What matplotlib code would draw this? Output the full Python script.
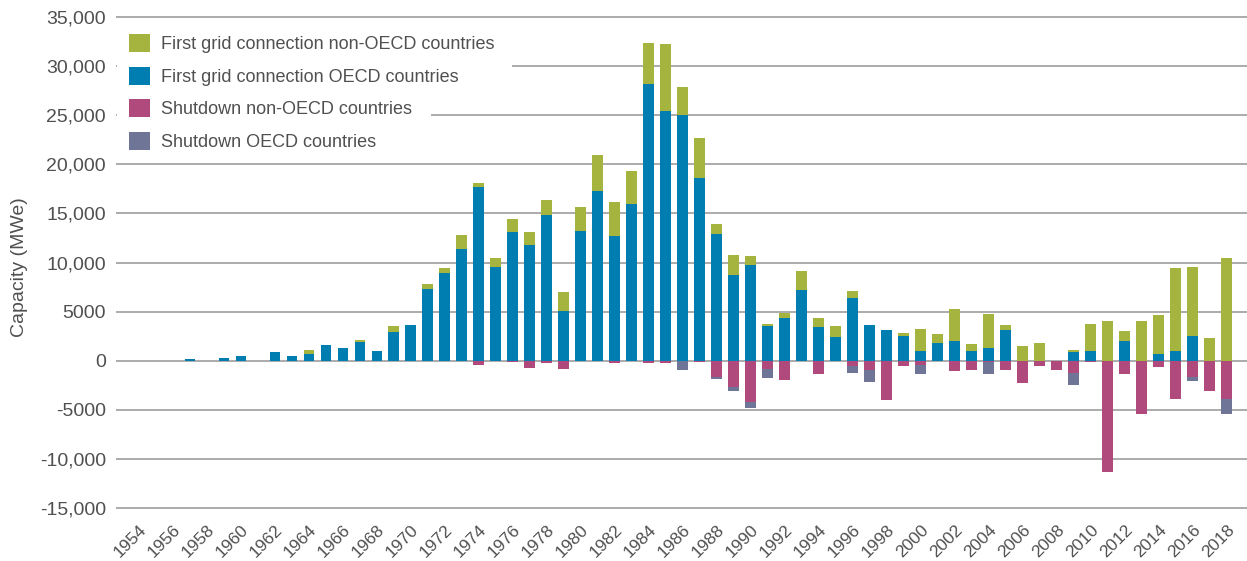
import matplotlib
matplotlib.use("Agg")
import matplotlib.pyplot as plt
from matplotlib.patches import Rectangle
from matplotlib.ticker import FuncFormatter, FixedLocator
from matplotlib.transforms import blended_transform_factory, ScaledTranslation
import numpy as np

years = list(range(1954, 2019))

oecd_connect = [0, 0, 0, 150, 0, 240, 440, 0, 850, 440,
                680, 1600, 1260, 1900, 990, 2920, 3640, 7340, 8930, 11380,
                17690, 9540, 13110, 11780, 14840, 5090, 13210, 17290, 12700, 15960,
                28170, 25430, 24980, 18610, 12920, 8680, 9760, 3490, 4370, 7190,
                3390, 2440, 6410, 3590, 3090, 2540, 1020, 1800, 2000, 1020,
                1320, 3150, 0, 0, 0, 850, 1020, 0, 1970, 0,
                680, 980, 2540, 0, 0]

nonoecd_connect = [0, 0, 0, 0, 0, 0, 0, 0, 0, 0,
                   370, 0, 0, 210, 0, 650, 0, 490, 480, 1390,
                   440, 950, 1290, 1330, 1490, 1870, 2440, 3630, 3500, 3330,
                   4170, 6770, 2850, 4040, 950, 2100, 950, 210, 440, 1900,
                   950, 1120, 640, 60, 0, 240, 2200, 950, 3220, 680,
                   3460, 510, 1490, 1830, 0, 240, 2740, 4000, 1050, 4070,
                   4000, 8480, 6990, 2340, 10410]

nonoecd_shutdown = [0, 0, 0, 0, 0, 0, 0, 0, 0, 0,
                    -50, 0, 0, -60, 0, 0, 0, 0, 0, 0,
                    -440, 0, -100, -780, -200, -880, 0, 0, -200, 0,
                    -270, -240, 0, -170, -1660, -2710, -4240, -850, -1970, 0,
                    -1390, 0, -540, -980, -4000, -580, -440, 0, -1090, -980,
                    -170, -950, -2240, -510, -920, -1290, -140, -11360, -1360, -5400,
                    -610, -3870, -1660, -3050, -3900]

oecd_shutdown = [0, 0, 0, 0, 0, 0, 0, 0, 0, 0,
                 0, 0, 0, 0, 0, 0, 0, 0, 0, 0,
                 0, 0, 0, 0, 0, 0, 0, 0, 0, 0,
                 0, 0, -920, 0, -170, -340, -540, -950, 0, 0,
                 0, 0, -750, -1220, 0, 0, -920, 0, 0, 0,
                 -1220, 0, 0, 0, 0, -1220, 0, 0, 0, 0,
                 0, 0, -410, 0, -1530]

tick_years = list(range(1954, 2019, 2))
y_ticks = list(range(-15000, 35001, 5000))

labels = ["First grid connection non-OECD countries",
          "First grid connection OECD countries",
          "Shutdown non-OECD countries",
          "Shutdown OECD countries"]
colors = ["#A4B43F", "#007DB1", "#B04A7C", "#6F7597"]

plt.rcParams['font.family'] = ['Liberation Sans', 'DejaVu Sans']
text_color = "#505050"

W, H = 1247, 561
fig = plt.figure(figsize=(W / 100, H / 100), dpi=100)
ax_l, ax_r, ax_t, ax_b = 117, 1247, 17, 508
ax = fig.add_axes([ax_l / W, 1 - ax_b / H, (ax_r - ax_l) / W, (ax_b - ax_t) / H])

x = np.array(years)
oc = np.array(oecd_connect)
nc = np.array(nonoecd_connect)
ns = np.array(nonoecd_shutdown)
osd = np.array(oecd_shutdown)

bw = 0.63
kw = dict(width=bw, linewidth=0, zorder=3)
b_nc = ax.bar(x, nc, bottom=oc, color=colors[0], **kw)
b_oc = ax.bar(x, oc, color=colors[1], **kw)
b_ns = ax.bar(x, ns, color=colors[2], **kw)
b_os = ax.bar(x, osd, bottom=ns, color=colors[3], **kw)

ax.set_xlim(1952.71, 2019.2)
ax.set_ylim(-15000, 35000)
ax.yaxis.set_major_locator(FixedLocator(y_ticks))
ax.yaxis.set_major_formatter(FuncFormatter(lambda v, p: f"{int(v):,}" if abs(v) >= 10000 else f"{int(v)}"))
ax.set_xticks(tick_years)
ax.set_xticklabels([str(t) for t in tick_years], rotation=45, ha="right", va="top",
                   rotation_mode="anchor", fontsize=12.5, color=text_color)
offset = ScaledTranslation(11 / 100, 0, fig.dpi_scale_trans)
for lab in ax.get_xticklabels():
    lab.set_transform(lab.get_transform() + offset)

ax.tick_params(axis="both", length=0)
ax.tick_params(axis="y", labelsize=14, labelcolor=text_color, pad=8)
ax.tick_params(axis="x", pad=10)
for s in ax.spines.values():
    s.set_visible(False)

ax.set_axisbelow(True)
ax.yaxis.grid(True, color="#ababab", linewidth=1.4)
ax.xaxis.grid(False)
for gl in ax.get_ygridlines():
    gl.set_clip_on(False)

ax.set_ylabel("Capacity (MWe)", fontsize=14, color=text_color)
ax.yaxis.set_label_coords(-(117 - 28) / (ax_r - ax_l), 0.49)

# white backgrounds behind legend rows hiding gridlines
tr = blended_transform_factory(ax.transAxes, ax.transData)
ax.add_patch(Rectangle((0, 29000), (512 - ax_l) / (ax_r - ax_l), 2000, transform=tr,
                       facecolor="white", edgecolor="none", zorder=1))
ax.add_patch(Rectangle((0, 24000), (431 - ax_l) / (ax_r - ax_l), 2000, transform=tr,
                       facecolor="white", edgecolor="none", zorder=1))

handles = [b_nc, b_oc, b_ns, b_os]
leg = ax.legend(handles, labels, loc="upper left",
                bbox_to_anchor=((129 - ax_l) / (ax_r - ax_l), 1 - (34 - ax_t) / (ax_b - ax_t)),
                frameon=False, fontsize=13, handlelength=1.15, handleheight=1.15,
                handletextpad=0.6, labelspacing=0.75, borderpad=0, borderaxespad=0)
for t in leg.get_texts():
    t.set_color(text_color)

fig.savefig("out.png", dpi=100)
